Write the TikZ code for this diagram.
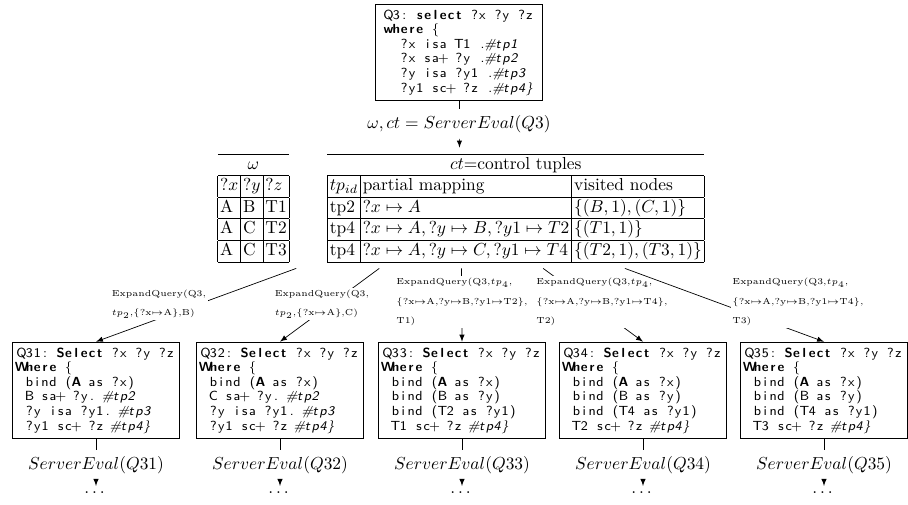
\documentclass[tikz,border=0pt]{standalone}
\usepackage{amssymb}
\usepackage{amsmath}
\usepackage{tikz}
\setlength{\tabcolsep}{1.4pt}
\newlength{\colw}
\setlength{\colw}{4.5pt}
% fixed columns, one box per character
\ExplSyntaxOn
\NewDocumentCommand{\cl}{m}{\tl_map_inline:nn {#1} {\makebox[\colw]{##1}}}
\ExplSyntaxOff
\newcommand{\cb}[1]{{\bfseries\cl{#1}}}
\newcommand{\ci}[1]{{\itshape\cl{#1}}}

\begin{document}
\begin{tikzpicture}[x=0.575pt, y=0.575pt,
    query/.style={draw, thick, align=left, inner sep=3pt, minimum width=96pt, font=\sffamily\fontsize{7.6}{8.4}\selectfont},
    expand/.style={fill=white, align=left, inner sep=1pt, font=\fontsize{5}{11.2}\selectfont}]
    \useasboundingbox (0,0) rectangle (908,504);

    % original query
    \node[query] (q3) at (459,451.5) {\cl{Q3:~}\cb{select}\cl{~?x~?y~?z}\\
        \cb{where}\cl{~\{}\\
        \cl{~~?x~isa~T1~.}\ci{\#tp1}\\
        \cl{~~?x~sa+~?y~.}\ci{\#tp2}\\
        \cl{~~?y~isa~?y1~.}\ci{\#tp3}\\
        \cl{~~?y1~sc+~?z~.}\ci{\#tp4\}}};
    \node (ev3) at (459,380) {$\omega, ct = ServerEval(Q3)$};

    % answers and control tuples
    \node (tabs) at (461,296) {%
        \begin{tabular}{|l|l|l|}
            \hline
            \multicolumn{3}{c}{$\omega$}\\ \hline
            $?x$ & $?y$ & $?z$\\ \hline
            A & B & T1\\ \hline
            A & C & T2\\ \hline
            A & C & T3\\ \hline
        \end{tabular}\hspace{22pt}%
        \begin{tabular}{|l|l|l|}
            \hline
            \multicolumn{3}{c}{$ct$=control tuples}\\ \hline
            $tp_{id}$ & partial mapping & visited nodes\\ \hline
            tp2 & $?x \mapsto A$ & $\{(B,1),(C,1)\}$\\ \hline
            tp4 & $?x \mapsto A, ?y \mapsto B, ?y1 \mapsto T2$ & $\{(T1,1)\}$\\ \hline
            tp4 & $?x \mapsto A, ?y \mapsto C, ?y1 \mapsto T4$ & $\{(T2,1),(T3,1)\}$\\ \hline
        \end{tabular}};

    \draw (q3) -- (ev3);
    \draw[-latex] (ev3) -- (tabs);

    % expanded queries
    \node[query] (q31) at (96,113.5) {\cl{Q31:~}\cb{Select}\cl{~?x~?y~?z}\\
        \cb{Where}\cl{~\{}\\
        \cl{~bind~(}\cb{A}\cl{~as~?x)}\\
        \cl{~B~sa+~?y.~}\ci{\#tp2}\\
        \cl{~?y~isa~?y1.~}\ci{\#tp3}\\
        \cl{~?y1~sc+~?z~}\ci{\#tp4\}}};
    \node[query] (q32) at (280,113.5) {\cl{Q32:~}\cb{Select}\cl{~?x~?y~?z}\\
        \cb{Where}\cl{~\{}\\
        \cl{~bind~(}\cb{A}\cl{~as~?x)}\\
        \cl{~C~sa+~?y.~}\ci{\#tp2}\\
        \cl{~?y~isa~?y1.~}\ci{\#tp3}\\
        \cl{~?y1~sc+~?z~}\ci{\#tp4\}}};
    \node[query] (q33) at (462,113.5) {\cl{Q33:~}\cb{Select}\cl{~?x~?y~?z}\\
        \cb{Where}\cl{~\{}\\
        \cl{~bind~(}\cb{A}\cl{~as~?x)}\\
        \cl{~bind~(B~as~?y)}\\
        \cl{~bind~(T2~as~?y1)}\\
        \cl{~T1~sc+~?z~}\ci{\#tp4\}}};
    \node[query] (q34) at (643,113.5) {\cl{Q34:~}\cb{Select}\cl{~?x~?y~?z}\\
        \cb{Where}\cl{~\{}\\
        \cl{~bind~(}\cb{A}\cl{~as~?x)}\\
        \cl{~bind~(B~as~?y)}\\
        \cl{~bind~(T4~as~?y1)}\\
        \cl{~T2~sc+~?z~}\ci{\#tp4\}}};
    \node[query] (q35) at (824,113.5) {\cl{Q35:~}\cb{Select}\cl{~?x~?y~?z}\\
        \cb{Where}\cl{~\{}\\
        \cl{~bind~(}\cb{A}\cl{~as~?x)}\\
        \cl{~bind~(B~as~?y)}\\
        \cl{~bind~(T4~as~?y1)}\\
        \cl{~T3~sc+~?z~}\ci{\#tp4\}}};

    \draw[-latex] (tabs) -- (q31.north);
    \node[expand] (e1) at (159,200) {ExpandQuery(Q3,\\$tp_2$,\{?x$\mapsto$A\},B)};
    \draw[-latex] (tabs) -- (q32.north);
    \node[expand] (e2) at (322,200) {ExpandQuery(Q3,\\$tp_2$,\{?x$\mapsto$A\},C)};
    \draw[-latex] (tabs) -- (q33.north);
    \node[expand] (e3) at (462,202) {ExpandQuery(Q3,$tp_4$,\\\{?x$\mapsto$A,?y$\mapsto$B,?y1$\mapsto$T2\},\\T1)};
    \draw[-latex] (tabs) -- (q34.north);
    \node[expand] (e4) at (602,202) {ExpandQuery(Q3,$tp_4$,\\\{?x$\mapsto$A,?y$\mapsto$B,?y1$\mapsto$T4\},\\T2)};
    \draw[-latex] (tabs) -- (q35.north);
    \node[expand] (e5) at (798,202) {ExpandQuery(Q3,$tp_4$,\\\{?x$\mapsto$A,?y$\mapsto$B,?y1$\mapsto$T4\},\\T3)};

    % evaluation of the expanded queries
    \node (se31) at (96,39) {$ServerEval(Q31)$};
    \node (se32) at (280,39) {$ServerEval(Q32)$};
    \node (se33) at (462,39) {$ServerEval(Q33)$};
    \node (se34) at (643,39) {$ServerEval(Q34)$};
    \node (se35) at (824,39) {$ServerEval(Q35)$};
    \node (d31) at (96,11) {$\dots$};
    \node (d32) at (280,11) {$\dots$};
    \node (d33) at (462,11) {$\dots$};
    \node (d34) at (643,11) {$\dots$};
    \node (d35) at (824,11) {$\dots$};

    \draw (q31) -- (se31); \draw[-latex] (se31) -- (d31);
    \draw (q32) -- (se32); \draw[-latex] (se32) -- (d32);
    \draw (q33) -- (se33); \draw[-latex] (se33) -- (d33);
    \draw (q34) -- (se34); \draw[-latex] (se34) -- (d34);
    \draw (q35) -- (se35); \draw[-latex] (se35) -- (d35);
\end{tikzpicture}
\end{document}
